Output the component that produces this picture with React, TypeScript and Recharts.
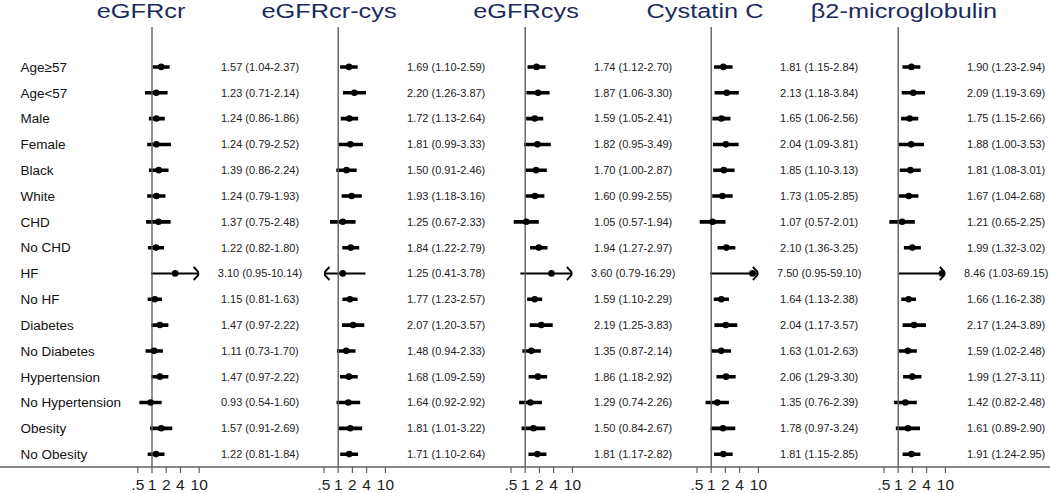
import React from 'react';
import { Bar, ComposedChart, ReferenceLine, Scatter, XAxis, YAxis } from 'recharts';

const groups = [
  'Age≥57', 'Age<57', 'Male', 'Female', 'Black', 'White', 'CHD', 'No CHD',
  'HF', 'No HF', 'Diabetes', 'No Diabetes', 'Hypertension', 'No Hypertension', 'Obesity', 'No Obesity',
];
const titles = ['eGFRcr', 'eGFRcr-cys', 'eGFRcys', 'Cystatin C', 'β2-microglobulin'];
const xTicks = [0.5, 1, 2, 4, 10];

const crEst = [1.57, 1.23, 1.24, 1.24, 1.39, 1.24, 1.37, 1.22, 3.10, 1.15, 1.47, 1.11, 1.47, 0.93, 1.57, 1.22];
const crLo = [1.04, 0.71, 0.86, 0.79, 0.86, 0.79, 0.75, 0.82, 0.95, 0.81, 0.97, 0.73, 0.97, 0.54, 0.91, 0.81];
const crHi = [2.37, 2.14, 1.86, 2.52, 2.24, 1.93, 2.48, 1.80, 10.14, 1.63, 2.22, 1.70, 2.22, 1.60, 2.69, 1.84];

const crCysEst = [1.69, 2.20, 1.72, 1.81, 1.50, 1.93, 1.25, 1.84, 1.25, 1.77, 2.07, 1.48, 1.68, 1.64, 1.81, 1.71];
const crCysLo = [1.10, 1.26, 1.13, 0.99, 0.91, 1.18, 0.67, 1.22, 0.41, 1.23, 1.20, 0.94, 1.09, 0.92, 1.01, 1.10];
const crCysHi = [2.59, 3.87, 2.64, 3.33, 2.46, 3.16, 2.33, 2.79, 3.78, 2.57, 3.57, 2.33, 2.59, 2.92, 3.22, 2.64];

const cysEst = [1.74, 1.87, 1.59, 1.82, 1.70, 1.60, 1.05, 1.94, 3.60, 1.59, 2.19, 1.35, 1.86, 1.29, 1.50, 1.81];
const cysLo = [1.12, 1.06, 1.05, 0.95, 1.00, 0.99, 0.57, 1.27, 0.79, 1.10, 1.25, 0.87, 1.18, 0.74, 0.84, 1.17];
const cysHi = [2.70, 3.30, 2.41, 3.49, 2.87, 2.55, 1.94, 2.97, 16.29, 2.29, 3.83, 2.14, 2.92, 2.26, 2.67, 2.82];

const cystEst = [1.81, 2.13, 1.65, 2.04, 1.85, 1.73, 1.07, 2.10, 7.50, 1.64, 2.04, 1.63, 2.06, 1.35, 1.78, 1.81];
const cystLo = [1.15, 1.18, 1.06, 1.09, 1.10, 1.05, 0.57, 1.36, 0.95, 1.13, 1.17, 1.01, 1.29, 0.76, 0.97, 1.15];
const cystHi = [2.84, 3.84, 2.56, 3.81, 3.13, 2.85, 2.01, 3.25, 59.10, 2.38, 3.57, 2.63, 3.30, 2.39, 3.24, 2.85];

const b2mEst = [1.90, 2.09, 1.75, 1.88, 1.81, 1.67, 1.21, 1.99, 8.46, 1.66, 2.17, 1.59, 1.99, 1.42, 1.61, 1.91];
const b2mLo = [1.23, 1.19, 1.15, 1.00, 1.08, 1.04, 0.65, 1.32, 1.03, 1.16, 1.24, 1.02, 1.27, 0.82, 0.89, 1.24];
const b2mHi = [2.94, 3.69, 2.66, 3.53, 3.01, 2.68, 2.25, 3.02, 69.15, 2.38, 3.89, 2.48, 3.11, 2.48, 2.90, 2.95];

const FONT = '"Liberation Sans", Arial, Helvetica, sans-serif';
const GREY = '#5f5f5f';
const TITLE_COLOR = '#1c2b5c';
const X_MIN = 0.5;
const X_MAX = 10;

// layout
const W = 1050;
const H = 493;
const PLOT_W = 61.4;
const TO_ONE = 14.2;
const AXIS_ONE = [152, 338.5, 525, 711.5, 898];
const TITLE_X = [141, 329, 526, 705, 904];
const RIGHT_W = 104;
const PAD_L = 12;

const fmt = (v: number) => v.toFixed(2);

function buildRows(est: number[], lo: number[], hi: number[]) {
  return groups.map((group, i) => ({
    group,
    est: est[i],
    ci: [Math.max(lo[i], X_MIN), Math.min(hi[i], X_MAX)],
    arrowL: lo[i] < X_MIN,
    arrowR: hi[i] > X_MAX,
    text: `${fmt(est[i])} (${fmt(lo[i])}-${fmt(hi[i])})`,
  }));
}

const panels = [
  buildRows(crEst, crLo, crHi),
  buildRows(crCysEst, crCysLo, crCysHi),
  buildRows(cysEst, cysLo, cysHi),
  buildRows(cystEst, cystLo, cystHi),
  buildRows(b2mEst, b2mLo, b2mHi),
];

function CiShape(props: any) {
  const { x, y, width, height, payload } = props;
  if (x == null || width == null) return null;
  const cy = y + height / 2;
  const x1 = x;
  const x2 = x + width;
  const thin = payload.arrowL || payload.arrowR;
  return (
    <g>
      <line x1={x1} x2={x2} y1={cy} y2={cy} stroke="#000" strokeWidth={thin ? 1.8 : 3.6} />
      {payload.arrowR && (
        <path
          d={`M${x2 - 5.5},${cy - 6.5} Q${x2 - 1},${cy - 2} ${x2},${cy} Q${x2 - 1},${cy + 2} ${x2 - 5.5},${cy + 6.5}`}
          fill="none"
          stroke="#000"
          strokeWidth={1.9}
        />
      )}
      {payload.arrowL && (
        <path
          d={`M${x1 + 5.5},${cy - 6.5} Q${x1 + 1},${cy - 2} ${x1},${cy} Q${x1 + 1},${cy + 2} ${x1 + 5.5},${cy + 6.5}`}
          fill="none"
          stroke="#000"
          strokeWidth={1.9}
        />
      )}
    </g>
  );
}

function Dot(props: any) {
  if (props.cx == null || props.cy == null) return null;
  return <circle cx={props.cx} cy={props.cy} r={3.3} fill="#000" />;
}

function Panel({ idx }: { idx: number }) {
  const rows = panels[idx];
  const showLabels = idx === 0;
  const leftW = showLabels ? AXIS_ONE[0] - TO_ONE : 0;
  const padL = showLabels ? 0 : PAD_L;
  const left = AXIS_ONE[idx] - TO_ONE - leftW - padL;
  const width = padL + leftW + PLOT_W + RIGHT_W;

  const labelTick = (p: any) => (
    <text x={20.5} y={p.y} dy="0.36em" textAnchor="start" fontSize={13.5} fill="#111" fontFamily={FONT}>
      {p.payload.value}
    </text>
  );
  const valueTick = (p: any) => {
    const row = rows.find((r) => r.group === p.payload.value);
    return (
      <text
        x={p.x + (108 - (PLOT_W - TO_ONE))}
        y={p.y}
        dy="0.36em"
        textAnchor="middle"
        fontSize={11}
        fill="#222"
        fontFamily={FONT}
      >
        {row ? row.text : ''}
      </text>
    );
  };

  return (
    <div style={{ position: 'absolute', left, top: 0 }}>
      <ComposedChart
        width={width}
        height={H}
        data={rows}
        layout="vertical"
        margin={{ top: 27, right: 0, bottom: 0, left: padL }}
        style={{ fontFamily: FONT }}
      >
        <XAxis
          type="number"
          scale="log"
          domain={[X_MIN, X_MAX]}
          allowDataOverflow
          ticks={xTicks}
          interval={0}
          height={26}
          axisLine={false}
          tickLine={{ stroke: GREY, strokeWidth: 1.2 }}
          tickSize={6}
          tickMargin={6}
          tick={{ fontSize: 15.5, fill: '#222' }}
          tickFormatter={(v) => (v === 0.5 ? '.5' : String(v))}
        />
        <YAxis
          yAxisId="left"
          type="category"
          dataKey="group"
          width={leftW}
          hide={!showLabels}
          axisLine={false}
          tickLine={false}
          interval={0}
          padding={{ top: 27, bottom: 0 }}
          tick={labelTick}
        />
        <YAxis
          yAxisId="right"
          orientation="right"
          type="category"
          dataKey="group"
          width={RIGHT_W}
          axisLine={false}
          tickLine={false}
          tickSize={0}
          tickMargin={0}
          interval={0}
          padding={{ top: 27, bottom: 0 }}
          tick={valueTick}
        />
        <ReferenceLine x={1} yAxisId="right" stroke={GREY} strokeWidth={1.4} />
        <Bar yAxisId="right" dataKey="ci" barSize={4} shape={<CiShape />} isAnimationActive={false} />
        <Scatter yAxisId="left" dataKey="est" shape={<Dot />} isAnimationActive={false} />
      </ComposedChart>
    </div>
  );
}

export default function App() {
  return (
    <div
      style={{
        position: 'absolute',
        left: 0,
        top: 0,
        width: W,
        height: H,
        overflow: 'hidden',
        background: '#fff',
        fontFamily: FONT,
      }}
    >
      <svg width={W} height={H} style={{ position: 'absolute', left: 0, top: 0 }}>
        <line x1={0} x2={W} y1={467} y2={467} stroke={GREY} strokeWidth={1.3} />
        {titles.map((t, i) => (
          <text
            key={t}
            transform={`translate(${TITLE_X[i]},18) scale(1.3,1)`}
            textAnchor="middle"
            fontSize={19.5}
            fill={TITLE_COLOR}
            fontFamily={FONT}
          >
            {t}
          </text>
        ))}
      </svg>
      {titles.map((t, i) => (
        <Panel key={t} idx={i} />
      ))}
    </div>
  );
}
